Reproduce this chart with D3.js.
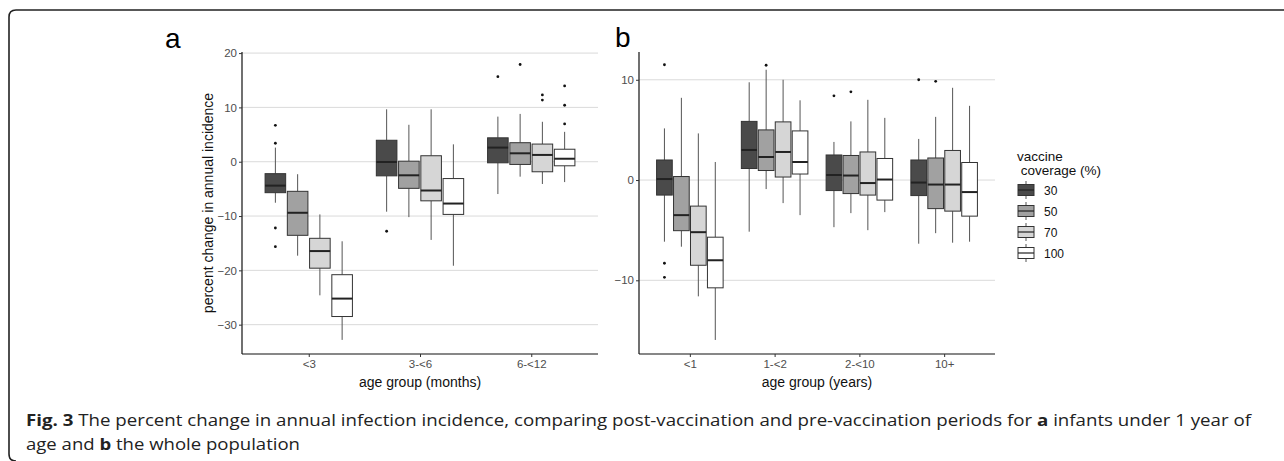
<!DOCTYPE html>
<html>
<head>
<meta charset="utf-8">
<script src="https://cdn.jsdelivr.net/npm/d3@7"></script>
<style>
  body { margin: 0; background: #fff; }
  svg { display: block; font-family: "Liberation Sans", Arial, sans-serif; }
  .caption { font-family: "Open Sans", sans-serif; }
</style>
</head>
<body>
<div id="container"></div>
<script>
// box stats per group: [lower whisker, q1, median, q3, upper whisker]
const coverage = ["30", "50", "70", "100"]
const fills = ["#4a4a4a", "#a1a1a1", "#d6d6d6", "#ffffff"]

const groupsA = ["<3", "3-<6", "6-<12"]
const ticksA = [-30, -20, -10, 0, 10, 20]
const a30 = [[-7.55, -5.7, -4.4, -2.2, 2.6], [-9.2, -2.6, -0.05, 3.95, 9.65], [-5.95, -0.2, 2.6, 4.4, 8.3]]
const a50 = [[-17.3, -13.55, -9.4, -5.45, -2.3], [-10.2, -4.9, -2.5, 0.1, 6.8], [-2.75, -0.5, 1.55, 3.5, 8.8]]
const a70 = [[-24.6, -19.6, -16.45, -14.1, -9.7], [-14.4, -7.2, -5.3, 1.1, 9.65], [-4.1, -1.85, 1.25, 3.25, 7.35]]
const a100 = [[-32.8, -28.5, -25.2, -20.8, -14.65], [-19.15, -9.7, -7.7, -3.1, 3.2], [-3.75, -0.75, 0.55, 2.3, 5.5]]
const outA30 = [[6.7, 3.4, -12.2, -15.65], [-12.8], [15.65]]
const outA50 = [[], [], [17.9]]
const outA70 = [[], [], [12.3, 11.35]]
const outA100 = [[], [], [13.95, 10.4, 6.95]]

const groupsB = ["<1", "1-<2", "2-<10", "10+"]
const ticksB = [-10, 0, 10]
const b30 = [[-6.15, -1.5, 0.1, 2.0, 5.15], [-5.15, 1.15, 3.0, 5.85, 9.75], [-4.7, -1.05, 0.5, 2.5, 3.8], [-6.35, -1.55, -0.25, 2.0, 4.1]]
const b50 = [[-6.65, -5.05, -3.5, 0.35, 8.2], [-0.9, 0.95, 2.3, 5.0, 11.0], [-3.3, -1.35, 0.45, 2.45, 5.85], [-5.3, -2.85, -0.45, 2.2, 6.3]]
const b70 = [[-11.6, -8.5, -5.2, -2.6, 4.65], [-2.3, 0.3, 2.8, 5.8, 10.0], [-5.0, -1.5, -0.3, 2.8, 8.0], [-6.25, -3.1, -0.45, 2.95, 9.2]]
const b100 = [[-15.95, -10.75, -8.0, -5.7, 1.8], [-3.5, 0.6, 1.8, 4.9, 7.95], [-3.2, -2.0, 0.05, 2.15, 6.2], [-6.15, -3.6, -1.2, 1.75, 7.4]]
const outB30 = [[11.5, -8.3, -9.7], [], [8.4], [10.0]]
const outB50 = [[], [11.45], [8.8], [9.85]]
const outB70 = [[], [], [], []]
const outB100 = [[], [], [], []]

const W = 1284, H = 461
const svg = d3.select("#container").append("svg").attr("width", W).attr("height", H)

// frame round the figure
svg.append("path")
    .attr("d", `M${W},10 H16 Q9,10 9,17 V454 Q9,461 16,461`)
    .attr("fill", "none").attr("stroke", "#222").attr("stroke-width", 1.6)

function panel(opt) {
    const x = d3.scalePoint().domain(opt.groups).range([opt.x0, opt.x1]).padding(0.6)
    const y = d3.scaleLinear().domain(opt.domain).range([354, 52])
    const step = x.step()
    const g = svg.append("g")

    g.selectAll(".grid").data(opt.ticks).enter().append("line")
        .attr("x1", opt.x0).attr("x2", opt.x1)
        .attr("y1", d => y(d)).attr("y2", d => y(d))
        .attr("stroke", "#dadada").attr("stroke-width", 1)

    const yAxis = g.append("g").attr("transform", `translate(${opt.x0},0)`)
        .call(d3.axisLeft(y).tickValues(opt.ticks).tickSize(3).tickPadding(2))
    const xAxis = g.append("g").attr("transform", `translate(0,354)`)
        .call(d3.axisBottom(x).tickSize(3).tickPadding(3))
    for (const ax of [yAxis, xAxis]) {
        ax.select(".domain").attr("stroke", "#111").attr("stroke-width", 1.2)
        ax.selectAll(".tick line").attr("stroke", "#333")
        ax.selectAll("text").attr("fill", "#4d4d4d").attr("font-size", 11.5)
            .attr("font-family", "Liberation Sans, Arial, sans-serif")
    }
    yAxis.select(".domain").attr("d", `M0,52V354`)
    xAxis.select(".domain").attr("d", `M${opt.x0},0H${opt.x1}`)

    opt.stats.forEach((series, k) => {
        series.forEach((s, i) => {
            const cx = x(opt.groups[i]) + (k - 1.5) * step * 0.2
            const bw = step * 0.185
            const [lo, q1, med, q3, hi] = s
            const wc = "#555"
            g.append("line").attr("x1", cx).attr("x2", cx).attr("y1", y(hi)).attr("y2", y(q3)).attr("stroke", wc)
            g.append("line").attr("x1", cx).attr("x2", cx).attr("y1", y(q1)).attr("y2", y(lo)).attr("stroke", wc)
            g.append("rect").attr("x", cx - bw / 2).attr("width", bw)
                .attr("y", y(q3)).attr("height", y(q1) - y(q3))
                .attr("fill", fills[k]).attr("stroke", "#333").attr("stroke-width", 1)
            g.append("line").attr("x1", cx - bw / 2).attr("x2", cx + bw / 2)
                .attr("y1", y(med)).attr("y2", y(med)).attr("stroke", "#222").attr("stroke-width", 2)
            g.selectAll(null).data(opt.outliers[k][i]).enter().append("circle")
                .attr("cx", cx).attr("cy", d => y(d)).attr("r", 1.4).attr("fill", "#111")
        })
    })

    svg.append("text").attr("x", opt.label[1]).attr("y", opt.label[2])
        .attr("font-size", 28).attr("fill", "#000").text(opt.label[0])
    svg.append("text").attr("x", (opt.x0 + opt.x1) / 2).attr("y", 387)
        .attr("text-anchor", "middle").attr("font-size", 14).attr("fill", "#111").text(opt.xTitle)
}

panel({
    groups: groupsA, ticks: ticksA, domain: [-35.4, 20.2], x0: 242, x1: 598,
    stats: [a30, a50, a70, a100], outliers: [outA30, outA50, outA70, outA100],
    label: ["a", 165, 48], xTitle: "age group (months)"
})
panel({
    groups: groupsB, ticks: ticksB, domain: [-17.35, 12.77], x0: 639, x1: 995,
    stats: [b30, b50, b70, b100], outliers: [outB30, outB50, outB70, outB100],
    label: ["b", 615, 47], xTitle: "age group (years)"
})

svg.append("text").attr("transform", "translate(213,203) rotate(-90)")
    .attr("text-anchor", "middle").attr("font-size", 14).attr("fill", "#111")
    .text("percent change in annual incidence")

// legend
const lg = svg.append("g")
lg.append("text").attr("x", 1017).attr("y", 161).attr("font-size", 13.5).attr("fill", "#111").text("vaccine")
lg.append("text").attr("x", 1017).attr("y", 175).attr("font-size", 13.5).attr("fill", "#111")
    .attr("xml:space", "preserve").text(" coverage (%)")
coverage.forEach((c, k) => {
    const cy = 190 + k * 21
    lg.append("line").attr("x1", 1026).attr("x2", 1026).attr("y1", cy - 9).attr("y2", cy + 9).attr("stroke", "#555")
    lg.append("rect").attr("x", 1018).attr("y", cy - 5.5).attr("width", 16).attr("height", 11)
        .attr("fill", fills[k]).attr("stroke", "#333")
    lg.append("line").attr("x1", 1018).attr("x2", 1034).attr("y1", cy).attr("y2", cy).attr("stroke", "#222").attr("stroke-width", 1.2)
    lg.append("text").attr("x", 1044).attr("y", cy + 4.5).attr("font-size", 12).attr("fill", "#111").text(c)
})

// caption
const cap1 = svg.append("text").attr("class", "caption").attr("x", 26).attr("y", 426)
    .attr("font-size", 15.5).attr("fill", "#222")
    .attr("textLength", 1225).attr("lengthAdjust", "spacingAndGlyphs")
cap1.append("tspan").attr("font-weight", "bold").text("Fig. 3")
cap1.append("tspan").text(" The percent change in annual infection incidence, comparing post-vaccination and pre-vaccination periods for ")
cap1.append("tspan").attr("font-weight", "bold").text("a")
cap1.append("tspan").text(" infants under 1 year of")
const cap2 = svg.append("text").attr("class", "caption").attr("x", 26).attr("y", 450)
    .attr("font-size", 15.5).attr("fill", "#222")
    .attr("textLength", 274).attr("lengthAdjust", "spacingAndGlyphs")
cap2.append("tspan").text("age and ")
cap2.append("tspan").attr("font-weight", "bold").text("b")
cap2.append("tspan").text(" the whole population")
</script>
</body>
</html>
